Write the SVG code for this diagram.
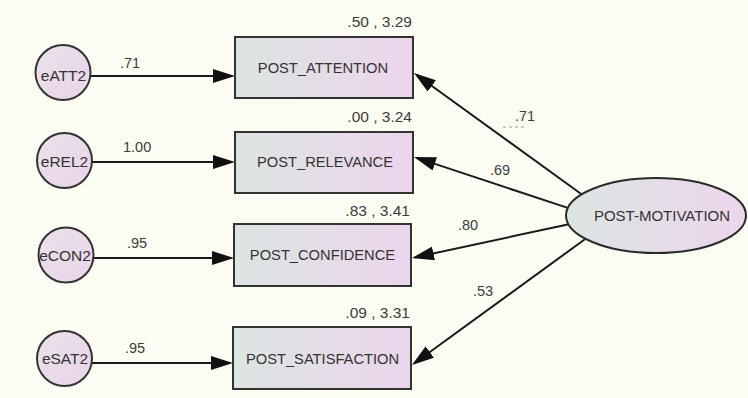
<svg xmlns="http://www.w3.org/2000/svg" width="748" height="398" viewBox="0 0 748 398">
  <defs>
    <linearGradient id="boxFill" x1="0" y1="0" x2="1" y2="0">
      <stop offset="0" stop-color="#dce5e2"/>
      <stop offset="1" stop-color="#ecd5ec"/>
    </linearGradient>
    <linearGradient id="circFill" x1="0" y1="0" x2="1" y2="1">
      <stop offset="0" stop-color="#e8e2e8"/>
      <stop offset="1" stop-color="#ead4ea"/>
    </linearGradient>
    <marker id="arrow" viewBox="0 0 22 14" refX="19" refY="7" markerWidth="22" markerHeight="14" markerUnits="userSpaceOnUse" orient="auto">
      <path d="M0,0 L22,7 L0,14 z" fill="#111"/>
    </marker>
    <style>
      .box { fill: url(#boxFill); stroke: #333; stroke-width: 2; }
      .circ { fill: url(#circFill); stroke: #333; stroke-width: 2; }
      .ell { fill: url(#boxFill); stroke: #2a2a2a; stroke-width: 2; }
      .edge { fill: none; stroke: #1a1a1a; stroke-width: 2; marker-end: url(#arrow); }
      .lbl { font-family: "Liberation Sans", Arial, sans-serif; font-size: 14.7px; fill: #333; text-anchor: middle; }
      .clbl { font-family: "Liberation Sans", Arial, sans-serif; font-size: 15.5px; fill: #333; text-anchor: middle; }
      .num { font-family: "Liberation Sans", Arial, sans-serif; font-size: 14.5px; fill: #3c3c3c; }
      .mean { font-family: "Liberation Sans", Arial, sans-serif; font-size: 15.5px; fill: #3c3c3c; text-anchor: end; }
    </style>
  </defs>
  <rect x="0" y="0" width="748" height="398" fill="#fcfdf2"/>

  <g id="connectors">
    <line class="edge" x1="91" y1="76" x2="232" y2="76"/>
    <line class="edge" x1="92" y1="162" x2="232" y2="162"/>
    <line class="edge" x1="93" y1="258" x2="231" y2="258"/>
    <line class="edge" x1="92" y1="363" x2="230" y2="363"/>
    <line class="edge" x1="584" y1="196" x2="416.4" y2="74.8"/>
    <line class="edge" x1="570" y1="208.6" x2="416.8" y2="157.9"/>
    <line class="edge" x1="570" y1="224" x2="414.9" y2="257.4"/>
    <line class="edge" x1="588" y1="237" x2="414.4" y2="363.2"/>
    <line x1="503" y1="127" x2="527" y2="127" stroke="#9a9a9a" stroke-width="1" stroke-dasharray="3 3"/>
  </g>

  <g id="eATT2">
    <circle class="circ" cx="63" cy="72.5" r="27.5"/>
    <text class="clbl" x="63.5" y="81">eATT2</text>
  </g>
  <g id="eREL2">
    <circle class="circ" cx="64.5" cy="160.5" r="27.5"/>
    <text class="clbl" x="64.5" y="167">eREL2</text>
  </g>
  <g id="eCON2">
    <circle class="circ" cx="66" cy="255" r="27.5"/>
    <text class="clbl" x="65" y="261">eCON2</text>
  </g>
  <g id="eSAT2">
    <circle class="circ" cx="64.5" cy="358.5" r="27.5"/>
    <text class="clbl" x="65" y="364">eSAT2</text>
  </g>

  <g id="POST_ATTENTION">
    <rect class="box" x="235" y="37" width="178" height="61"/>
    <text class="lbl" x="323" y="73">POST_ATTENTION</text>
    <text class="mean" x="412" y="27">.50 , 3.29</text>
  </g>
  <g id="POST_RELEVANCE">
    <rect class="box" x="235" y="132" width="178" height="61"/>
    <text class="lbl" x="325" y="167">POST_RELEVANCE</text>
    <text class="mean" x="412" y="122">.00 , 3.24</text>
  </g>
  <g id="POST_CONFIDENCE">
    <rect class="box" x="234" y="224" width="177" height="62"/>
    <text class="lbl" x="322.5" y="260">POST_CONFIDENCE</text>
    <text class="mean" x="410" y="216">.83 , 3.41</text>
  </g>
  <g id="POST_SATISFACTION">
    <rect class="box" x="233" y="327" width="178" height="62"/>
    <text class="lbl" x="322.5" y="364">POST_SATISFACTION</text>
    <text class="mean" x="410" y="318">.09 , 3.31</text>
  </g>

  <g id="POST-MOTIVATION">
    <ellipse class="ell" cx="656" cy="215.5" rx="90" ry="37.5"/>
    <text class="lbl" x="662" y="221" style="font-size:15px">POST-MOTIVATION</text>
  </g>

  <g id="edge-labels">
    <text class="num" x="120" y="68">.71</text>
    <text class="num" x="123" y="152">1.00</text>
    <text class="num" x="127" y="248">.95</text>
    <text class="num" x="125" y="353">.95</text>
    <text class="num" x="515" y="121">.71</text>
    <text class="num" x="490" y="175">.69</text>
    <text class="num" x="458" y="230">.80</text>
    <text class="num" x="473" y="296">.53</text>
  </g>
</svg>
